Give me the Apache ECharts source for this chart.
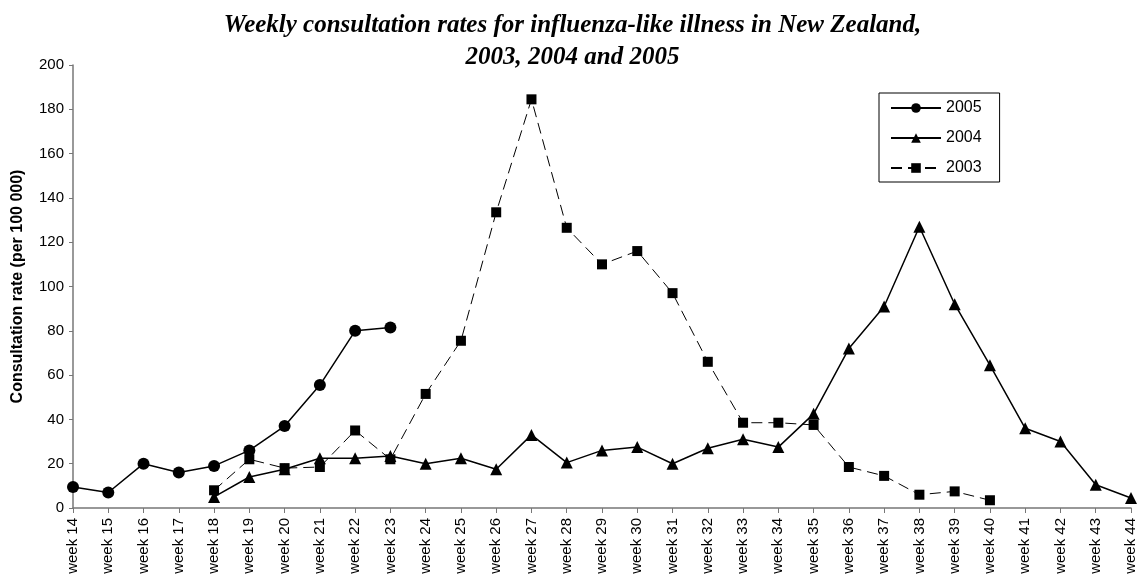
<!DOCTYPE html>
<html>
<head>
<meta charset="utf-8">
<script src="https://cdn.jsdelivr.net/npm/echarts@6/dist/echarts.min.js"></script>
<style>html,body{margin:0;padding:0;background:#fff}#c{width:1145px;height:583px}</style>
</head>
<body>
<div id="c"></div>
<script>
var weeks = ["week 14","week 15","week 16","week 17","week 18","week 19","week 20","week 21","week 22","week 23","week 24","week 25","week 26","week 27","week 28","week 29","week 30","week 31","week 32","week 33","week 34","week 35","week 36","week 37","week 38","week 39","week 40","week 41","week 42","week 43","week 44"];
var y2005 = [9.5,7,20,16,19,26,37,55.5,80,81.5,null,null,null,null,null,null,null,null,null,null,null,null,null,null,null,null,null,null,null,null,null];
var y2004 = [null,null,null,null,5,14,17.5,22.5,22.5,23.5,20,22.5,17.5,33,20.5,26,27.5,20,27,31,27.5,42.5,72,91,127,92,64.5,36,30,10.5,4.5];
var y2003 = [null,null,null,null,8,22,18,18.5,35,22,51.5,75.5,133.5,184.5,126.5,110,116,97,66,38.5,38.5,37.5,18.5,14.5,6,7.5,3.5,null,null,null,null];
var yTicks = [0,20,40,60,80,100,120,140,160,180,200];

var chart = echarts.init(document.getElementById('c'), null, {renderer:'canvas'});
chart.setOption({
  animation:false,
  backgroundColor:'#fff',
  title:{
    text:'Weekly consultation rates for influenza-like illness in New Zealand,\n2003, 2004 and 2005',
    left:'center', top:5,
    textStyle:{fontFamily:'Liberation Serif',fontStyle:'italic',fontWeight:'bold',fontSize:25,lineHeight:32,color:'#000'}
  },
  legend:{
    orient:'vertical', left:879, top:93,
    itemWidth:50, itemHeight:12, itemGap:14,
    borderColor:'#000', borderWidth:1, padding:[7,18,6,11],
    textStyle:{fontFamily:'Liberation Sans',fontSize:16,color:'#000'},
    data:['2005','2004','2003']
  },
  grid:{left:73,right:14,top:65,bottom:75},
  xAxis:{
    type:'category', data:weeks, boundaryGap:false,
    axisLine:{lineStyle:{color:'#777',width:1.5}},
    axisTick:{alignWithLabel:true,length:5,lineStyle:{color:'#777'}},
    axisLabel:{rotate:90,interval:0,fontFamily:'Liberation Sans',fontSize:15,color:'#000',margin:10}
  },
  yAxis:{
    type:'value', min:0, max:200, interval:20,
    name:'Consultation rate (per 100 000)', nameLocation:'middle', nameGap:47, nameRotate:90,
    nameTextStyle:{fontFamily:'Liberation Sans',fontWeight:'bold',fontSize:16,color:'#000'},
    axisLine:{show:true,lineStyle:{color:'#777',width:1.5}},
    axisTick:{show:true,length:4,lineStyle:{color:'#777'}},
    splitLine:{show:false},
    axisLabel:{fontFamily:'Liberation Sans',fontSize:15,color:'#000',margin:9,
      formatter:function(v){return yTicks.indexOf(v)>=0?String(v):'';}}
  },
  series:[
    {name:'2005',type:'line',data:y2005,symbol:'circle',symbolSize:12,
      lineStyle:{color:'#000',width:1.5},itemStyle:{color:'#000'}},
    {name:'2004',type:'line',data:y2004,symbol:'triangle',symbolSize:12,
      lineStyle:{color:'#000',width:1.5},itemStyle:{color:'#000'}},
    {name:'2003',type:'line',data:y2003,symbol:'rect',symbolSize:10,
      lineStyle:{color:'#000',width:1,type:[11,6]},itemStyle:{color:'#000'}}
  ]
});
</script>
</body>
</html>
